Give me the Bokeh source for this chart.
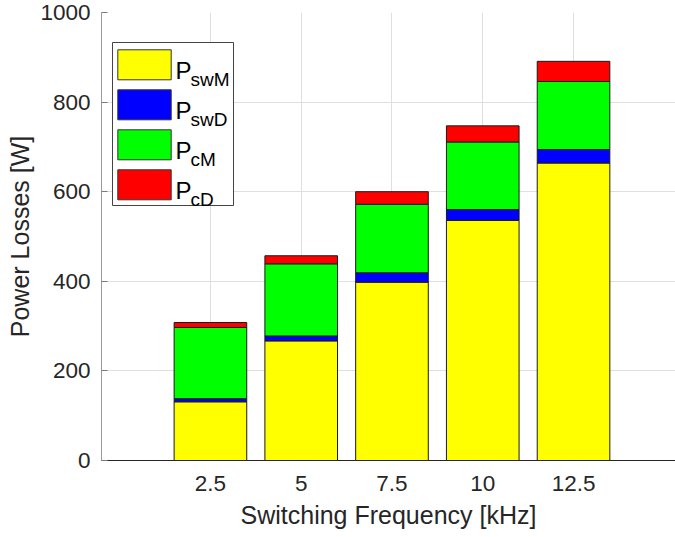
from bokeh.plotting import figure
from bokeh.models import ColumnDataSource, Range1d, FixedTicker
from bokeh.core.properties import value
from bokeh.embed import file_html
from bokeh.resources import INLINE

# ---- data ----
freq = [2.5, 5, 7.5, 10, 12.5]
freq_labels = ["2.5", "5", "7.5", "10", "12.5"]
p_swM = [131, 267, 398, 536, 664]
p_swD = [7, 11, 21, 24, 30]
p_cM = [159, 161, 153, 151, 152]
p_cD = [11, 18, 28, 36, 45]
series_keys = ["swM", "swD", "cM", "cD"]
series_subs = ["swM", "swD", "cM", "cD"]
series_colors = ["#ffff00", "#0000ff", "#00ff00", "#ff0000"]
y_ticks = [0, 200, 400, 600, 800, 1000]

FONT = "Liberation Sans"
TXT = "#262626"

# ---- layout ----
W, H = 675, 537
LEFT, TOP, BOTTOM = 101, 12, 77
FW, FH = W - LEFT, H - TOP - BOTTOM
X0, X1 = -0.5, -0.5 + FW / 36.31
Y0, Y1 = 0, 1000

def sx(px):  # canvas pixel x -> data x
    return X0 + (px - LEFT) / FW * (X1 - X0)

def sy(py):  # canvas pixel y -> data y
    return Y1 - (py - TOP) / FH * (Y1 - Y0)

p = figure(width=W, height=H, output_backend="svg", toolbar_location=None,
           x_range=Range1d(X0, X1), y_range=Range1d(Y0, Y1),
           min_border_left=LEFT, min_border_right=0,
           min_border_top=TOP, min_border_bottom=BOTTOM)
p.outline_line_color = None
p.background_fill_color = "white"
p.border_fill_color = "white"

src = ColumnDataSource(dict(x=freq, swM=p_swM, swD=p_swD, cM=p_cM, cD=p_cD))
p.vbar_stack(series_keys, x="x", width=2.0, color=series_colors, source=src,
             line_color="#1a1a1a", line_width=1)

# grid
p.xgrid.ticker = FixedTicker(ticks=freq)
p.ygrid.ticker = FixedTicker(ticks=y_ticks)
for g in (p.xgrid, p.ygrid):
    g.grid_line_color = "#dfdfdf"
    g.grid_line_width = 1

# axes
xa, ya = p.xaxis[0], p.yaxis[0]
xa.ticker = FixedTicker(ticks=freq)
xa.major_label_overrides = {f: l for f, l in zip(freq, freq_labels)}
ya.ticker = FixedTicker(ticks=y_ticks)
xa.axis_label = "Switching Frequency [kHz]"
ya.axis_label = "Power Losses [W]"
for a in (xa, ya):
    a.axis_line_width = 1
    a.major_tick_out = 0
    a.minor_tick_line_color = None
    a.major_label_text_font = FONT
    a.major_label_text_font_size = "22.5px"
    a.major_label_text_color = TXT
    a.axis_label_text_font = FONT
    a.axis_label_text_font_size = "25px"
    a.axis_label_text_font_style = "normal"
    a.axis_label_text_color = TXT
xa.axis_line_color = TXT
ya.axis_line_color = "#9a9a9a"
ya.major_tick_line_color = "#7a7a7a"
xa.major_tick_in = 0
ya.major_tick_in = 6
xa.major_label_standoff = 15
xa.axis_label_standoff = 7
ya.major_label_standoff = 11
ya.axis_label_standoff = 3

# ---- legend (drawn by hand for subscripts) ----
p.quad(left=[sx(112)], right=[sx(233)], top=[sy(42)], bottom=[sy(205)],
       fill_color="white", line_color="#444444", line_width=1)
n = len(series_keys)
sw_top = [sy(49.3 + 40 * i) for i in range(n)]
sw_bot = [sy(79.3 + 40 * i) for i in range(n)]
p.quad(left=[sx(117.3)] * n, right=[sx(170.7)] * n, top=sw_top, bottom=sw_bot,
       fill_color=series_colors, line_color="#333333", line_width=1)
p.text(x=[sx(175)] * n, y=[sy(70 + 40 * i) for i in range(n)], text=["P"] * n,
       text_font=value(FONT), text_font_size="24px", text_color="black",
       text_baseline="alphabetic", text_align="left")
p.text(x=[sx(190)] * n, y=[sy(79.3 + 40 * i) for i in range(n)], text=series_subs,
       text_font=value(FONT), text_font_size="19px", text_color="black",
       text_baseline="alphabetic", text_align="left")

open("out.html", "w").write(file_html(p, INLINE))
